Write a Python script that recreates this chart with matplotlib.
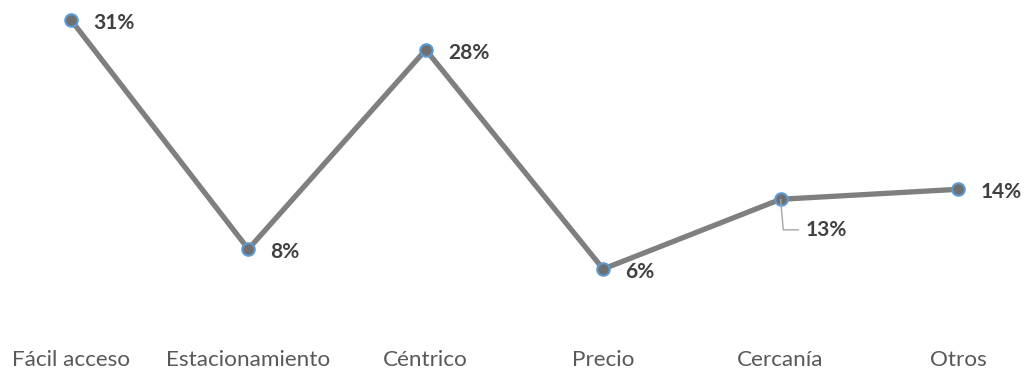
import matplotlib
matplotlib.use("Agg")
import matplotlib.pyplot as plt

categories = ["Fácil acceso", "Estacionamiento", "Céntrico", "Precio", "Cercanía", "Otros"]
values = [31, 8, 28, 6, 13, 14]
labels = ["31%", "8%", "28%", "6%", "13%", "14%"]

plt.rcParams['font.family'] = ['Lato', 'DejaVu Sans']

fig = plt.figure(figsize=(10.24, 3.73), dpi=100)
ax = fig.add_axes([0, 0.1185, 1, 0.8815])
x = list(range(len(categories)))
ax.plot(x, values, color="#7f7f7f", lw=3.8, solid_capstyle="round", zorder=2,
        marker="o", markersize=9, markerfacecolor="#6f6f6f",
        markeredgecolor="#5b9bd5", markeredgewidth=1.5)
ax.set_xlim(-0.400, 5.372)
ax.set_ylim(0, 33.0)
ax.set_xticks(x)
ax.set_xticklabels(categories, fontsize=16.2, color="#595959")
ax.tick_params(axis="x", length=0, pad=15)
ax.set_yticks([])
for s in ax.spines.values():
    s.set_visible(False)

for i, (v, lab) in enumerate(zip(values, labels)):
    if i == 4:
        ax.annotate(lab, (i, v), xytext=(18, -22), textcoords="offset points",
                    ha="left", va="center", fontsize=15, fontweight="bold",
                    color="#404040",
                    arrowprops=dict(arrowstyle="-", color="#a6a6a6", lw=1,
                                    connectionstyle="angle,angleA=0,angleB=95,rad=0",
                                    shrinkA=3, shrinkB=0))
    else:
        ax.annotate(lab, (i, v), xytext=(16, -2), textcoords="offset points",
                    ha="left", va="center", fontsize=15, fontweight="bold",
                    color="#404040")

fig.savefig("out.png", dpi=100)
